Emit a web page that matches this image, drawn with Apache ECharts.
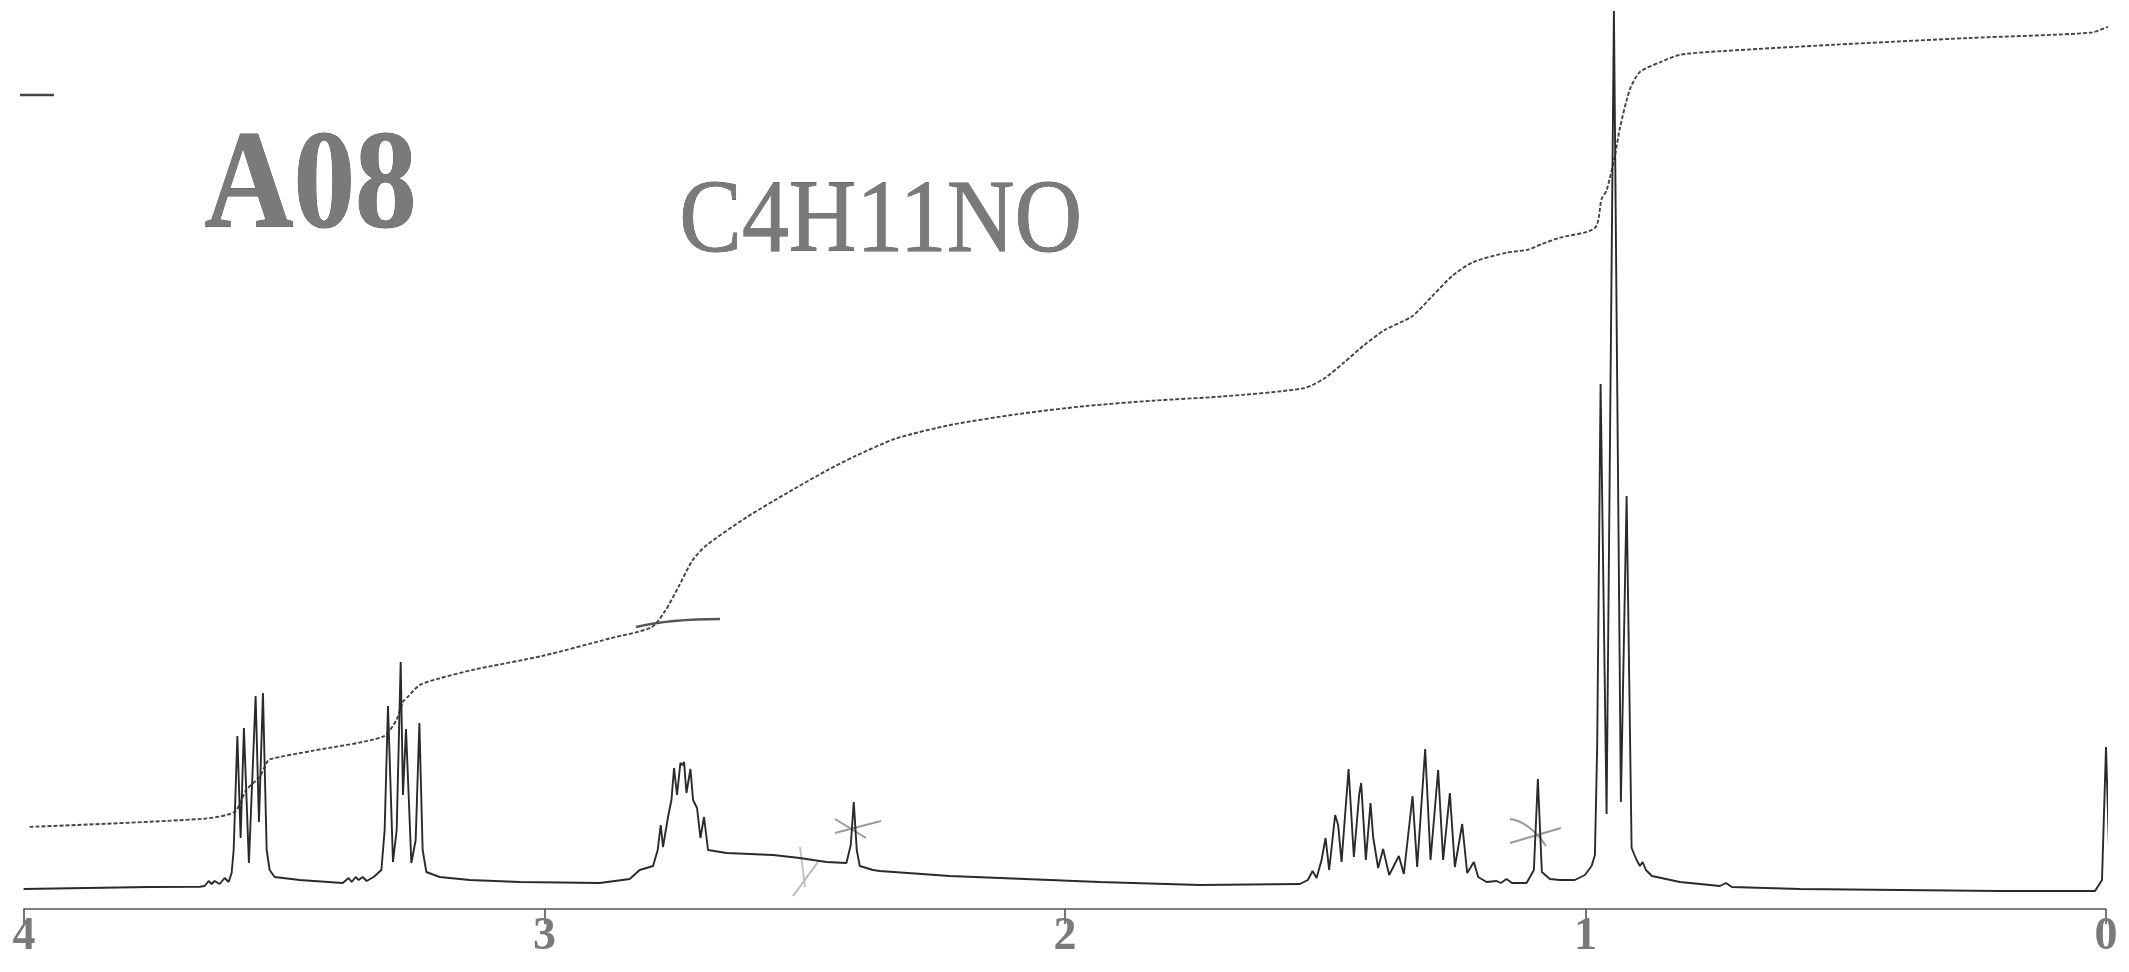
<!DOCTYPE html>
<html>
<head>
<meta charset="utf-8">
<script src="https://cdn.jsdelivr.net/npm/echarts@6/dist/echarts.min.js"></script>
<style>
html,body{margin:0;padding:0;background:#ffffff;}
#chart{width:2129px;height:972px;}
</style>
</head>
<body>
<div id="chart"></div>
<script>
// ---- data ----
var sampleId = 'A08';
var formula = 'C4H11NO';
var xTicks = [0, 1, 2, 3, 4];

// 1H NMR trace: chemical shift (ppm) and intensity (arbitrary units)
var specPpm = [4.0008,3.7587,3.6626,3.6530,3.6453,3.6395,3.6338,3.6241,3.6145,3.6069,3.6011,3.5972,3.5901,3.5838,3.5775,3.5679,3.5550,3.5486,3.5409,3.5338,3.5281,3.5184,3.4704,3.3878,3.3763,3.3705,3.3628,3.3570,3.3494,3.3417,3.3282,3.3134,3.3071,3.3007,3.2911,3.2840,3.2763,3.2719,3.2661,3.2558,3.2475,3.2404,3.2341,3.2270,3.2014,3.1437,3.0477,2.8939,2.8363,2.8171,2.7915,2.7825,2.7767,2.7723,2.7627,2.7561,2.7511,2.7454,2.7389,2.7350,2.7319,2.7273,2.7196,2.7146,2.7069,2.7004,2.6935,2.6858,2.6504,2.5609,2.5096,2.4583,2.4199,2.4116,2.4058,2.4001,2.3943,2.3688,2.3559,2.2214,1.9331,1.7410,1.5488,1.5334,1.5244,1.5167,1.5071,1.4994,1.4925,1.4810,1.4752,1.4687,1.4552,1.4450,1.4349,1.4310,1.4220,1.4130,1.4080,1.3984,1.3888,1.3772,1.3586,1.3490,1.3323,1.3234,1.3080,1.2977,1.2831,1.2735,1.2606,1.2510,1.2369,1.2273,1.2145,1.2062,1.1901,1.1708,1.1626,1.1516,1.1414,1.1132,1.0992,1.0915,1.0838,1.0684,1.0492,1.0204,1.0012,0.9883,0.9819,0.9775,0.9710,0.9595,0.9454,0.9320,0.9210,0.9114,0.9018,0.8955,0.8903,0.8839,0.8724,0.8186,0.7417,0.7302,0.7187,0.5880,0.3958,0.2037,0.0211,0.0077,0.0000,-0.0077,-0.0231,-0.0442];
var specInt = [0,2,2.3,3,8,5,8,5,11,7,16,39,153,51,161,26,193,67,196,39,19,12,9,6,11,7,12,9,12,8,12,19,59,183,27,59,227,94,160,26,49,166,39,17,12,9,7,6,10,19,23,39,64,42,72,89,121,94,126,124,127,96,120,89,81,51,72,39,36,34,31,27,26,44,87,39,23,19,18,13,7,4,5,9,18,11,29,51,19,74,64,27,120,32,94,106,29,86,52,21,40,14,33,15,93,22,140,29,119,29,96,22,65,16,27,12,7,8,6,10,6,6,19,110,17,10,9,9,14,23,34,145,505,75,878,87,393,41,29,23,27,19,13,7,3,6,2,0,-1,-2,-2,9,142,7,0,0];

// integral trace: chemical shift (ppm) and running integral (same units)
var integPpm = [3.9892,3.6549,3.5953,3.5729,3.5473,3.5344,3.5281,3.4468,3.3104,3.2846,3.2719,3.2623,3.2398,3.2014,3.1337,3.0033,2.8728,2.7946,2.7684,2.7423,2.7162,2.6900,2.6118,2.5336,2.4552,2.4032,2.3250,2.2204,2.0899,1.9596,1.8292,1.6987,1.5421,1.5029,1.4639,1.4247,1.3855,1.3334,1.2942,1.2552,1.2160,1.1507,1.1117,1.0855,1.0492,0.9819,0.9691,0.9595,0.9435,0.9339,0.9147,0.8955,0.8570,0.8186,0.7341,0.5246,0.2636,0.0288,-0.0104,-0.0442];
var integVal = [62.1,70.3,77.3,99,112.3,125.7,129.7,138.1,152.3,169,187.3,192.3,204,210.7,219.6,233.2,250.8,261.7,278,302.4,328.2,343.2,371.7,396.1,419.2,432.8,450.4,464,474.9,483,488.4,492.5,500.7,510.2,526.5,544.1,559.1,572.6,593,613.4,626.9,636.4,639.2,644.6,651.3,661,690,698.6,733.2,761,799.6,817,826.7,834.2,838,844.2,851,856.4,863.2,866];

// ---- chart ----
var specData = specPpm.map(function (p, i) { return [p, specInt[i]]; });
var integData = integPpm.map(function (p, i) { return [p, integVal[i]]; });

var chart = echarts.init(document.getElementById('chart'), null, {renderer: 'canvas'});
var pencil = '#9a9a9a';
chart.setOption({
  animation: false,
  backgroundColor: '#ffffff',
  grid: {left: 24, right: 23, top: 0, bottom: 63, containLabel: false},
  xAxis: {
    type: 'value',
    inverse: true,
    min: 0, max: 4, interval: 1,
    splitLine: {show: false},
    axisLine: {show: true, onZero: false, lineStyle: {color: '#555', width: 1.6}},
    axisTick: {show: true, length: 15, lineStyle: {color: '#555', width: 1.6}},
    axisLabel: {
      show: true, margin: 5, showMinLabel: true, showMaxLabel: true,
      fontFamily: 'Liberation Serif', fontWeight: 'bold', fontSize: 46, color: '#7a7a7a',
      formatter: function (v) { return xTicks.indexOf(v) >= 0 ? String(v) : ''; }
    }
  },
  yAxis: {
    type: 'value', min: -20, max: 889, show: false,
    splitLine: {show: false}
  },
  series: [
    {
      name: 'spectrum', type: 'line', data: specData, showSymbol: false, clip: false,
      lineStyle: {color: '#2a2a2a', width: 1.9}, silent: true, z: 3
    },
    {
      name: 'integral', type: 'line', data: integData, showSymbol: false, clip: false, smooth: 0.25,
      lineStyle: {color: '#444', width: 1.9, type: [4, 2]}, silent: true, z: 2
    }
  ],
  graphic: [
    {type: 'text', left: 204, top: 120, scaleX: 0.88, style: {text: sampleId, font: 'bold 140px "Liberation Serif"', fill: '#7a7a7a', stroke: '#5a5a5a', lineWidth: 1}},
    {type: 'text', left: 679, top: 172, scaleX: 0.91, style: {text: formula, font: '103px "Liberation Serif"', fill: '#7a7a7a', stroke: '#5a5a5a', lineWidth: 0.8}},
    {type: 'line', shape: {x1: 20, y1: 95, x2: 54, y2: 95}, style: {stroke: '#444', lineWidth: 2.5}},
    // pencil annotations
    {type: 'line', shape: {x1: 835, y1: 819, x2: 866, y2: 838}, style: {stroke: pencil, lineWidth: 2}},
    {type: 'line', shape: {x1: 835, y1: 833, x2: 881, y2: 821}, style: {stroke: pencil, lineWidth: 2}},
    {type: 'bezierCurve', shape: {x1: 1510, y1: 819, x2: 1546, y2: 846, cpx1: 1530, cpy1: 822}, style: {stroke: pencil, lineWidth: 2, fill: null}},
    {type: 'line', shape: {x1: 1510, y1: 843, x2: 1561, y2: 828}, style: {stroke: pencil, lineWidth: 2}},
    {type: 'bezierCurve', shape: {x1: 636, y1: 627, x2: 720, y2: 619, cpx1: 670, cpy1: 619}, style: {stroke: '#555', lineWidth: 2.5, fill: null}},
    {type: 'line', shape: {x1: 800, y1: 847, x2: 805, y2: 887}, style: {stroke: '#c4c4c4', lineWidth: 2}},
    {type: 'line', shape: {x1: 818, y1: 862, x2: 793, y2: 896}, style: {stroke: '#b8b8b8', lineWidth: 2}}
  ]
});
</script>
</body>
</html>
